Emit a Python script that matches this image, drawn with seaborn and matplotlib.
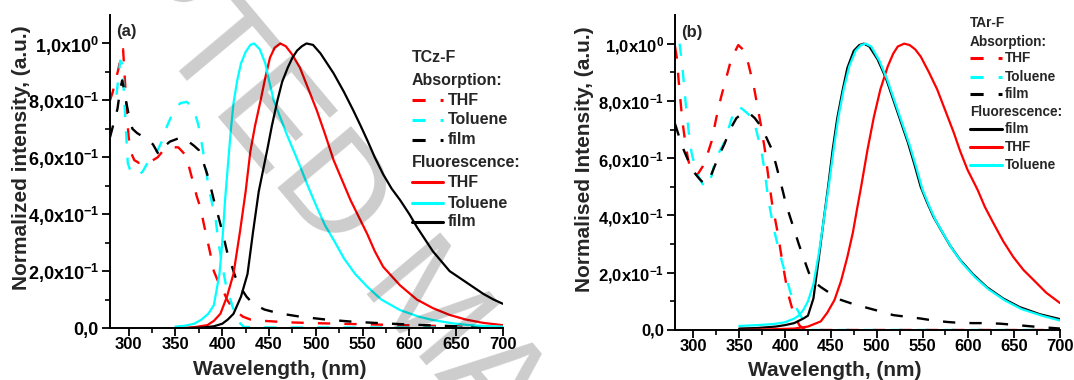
import matplotlib
matplotlib.use("Agg")
import matplotlib.pyplot as plt
import seaborn as sns

# ---- panel (a) TCz-F : absorption (dashed) ----
a_abs_thf_x = [280, 283, 286, 289, 292, 294, 296, 298, 300, 302, 306, 311, 321, 331, 336, 344, 353, 361, 365,
               369, 373, 377, 380, 384, 388, 391, 395, 400, 405, 410, 416, 422, 430, 445, 470, 500, 540, 580,
               620, 660, 700]
a_abs_thf_y = [0.80, 0.83, 0.87, 0.91, 0.96, 0.98, 0.87, 0.75, 0.67, 0.62, 0.59, 0.58, 0.58, 0.60, 0.62, 0.635,
               0.635, 0.607, 0.56, 0.51, 0.46, 0.42, 0.37, 0.31, 0.25, 0.20, 0.168, 0.14, 0.10, 0.075, 0.056,
               0.04, 0.03, 0.025, 0.02, 0.017, 0.014, 0.011, 0.008, 0.005, 0.003]

a_abs_tol_x = [287, 289, 291, 293, 295, 297, 299, 302, 306, 310, 315, 320, 326, 331, 336, 341, 345, 350, 355,
               362, 367, 371, 374, 377, 380, 383, 385, 389, 393, 396, 400, 404, 407, 411, 415, 419, 423, 450,
               500, 600, 700]
a_abs_tol_y = [0.82, 0.88, 0.94, 0.93, 0.82, 0.70, 0.58, 0.55, 0.54, 0.535, 0.55, 0.58, 0.61, 0.625, 0.66, 0.71,
               0.74, 0.77, 0.79, 0.795, 0.78, 0.75, 0.72, 0.67, 0.61, 0.55, 0.50, 0.44, 0.38, 0.30, 0.22, 0.15,
               0.12, 0.075, 0.04, 0.017, 0.004, 0.002, 0.002, 0.002, 0.002]

a_abs_film_x = [280, 284, 288, 291, 293, 295, 297, 300, 304, 309, 314, 320, 326, 332, 337, 344, 352, 358, 364,
                370, 375, 379, 384, 388, 391, 396, 400, 405, 409, 414, 419, 426, 433, 445, 460, 483, 510, 540,
                575, 608, 635, 661, 680, 700]
a_abs_film_y = [0.67, 0.72, 0.77, 0.84, 0.87, 0.84, 0.80, 0.75, 0.70, 0.685, 0.675, 0.665, 0.645, 0.61, 0.635,
                0.655, 0.665, 0.67, 0.655, 0.64, 0.625, 0.59, 0.54, 0.49, 0.45, 0.39, 0.34, 0.27, 0.23, 0.18,
                0.145, 0.11, 0.085, 0.065, 0.052, 0.04, 0.03, 0.022, 0.016, 0.011, 0.008, 0.005, 0.003, 0.001]

# ---- panel (a) TCz-F : fluorescence (solid) ----
a_fl_thf_x = [355, 370, 384, 391, 398, 405, 412, 419, 425, 430, 435, 441, 446, 451, 456, 462, 468, 475, 483,
              492, 501, 510, 519, 528, 537, 546, 555, 563, 572, 590, 608, 625, 643, 660, 679, 700]
a_fl_thf_y = [0.0, 0.003, 0.01, 0.025, 0.05, 0.11, 0.19, 0.34, 0.48, 0.62, 0.71, 0.80, 0.88, 0.95, 0.985, 1.0,
              0.99, 0.96, 0.915, 0.84, 0.765, 0.68, 0.59, 0.52, 0.45, 0.39, 0.33, 0.27, 0.215, 0.15, 0.10,
              0.07, 0.046, 0.03, 0.018, 0.01]

a_fl_tol_x = [350, 360, 370, 378, 385, 391, 397, 400, 403, 406, 409, 412, 416, 420, 425, 430, 434, 440, 446,
              450, 455, 462, 469, 476, 483, 492, 501, 510, 519, 530, 542, 555, 570, 590, 610, 625, 645, 661,
              680, 700]
a_fl_tol_y = [0.005, 0.008, 0.015, 0.03, 0.05, 0.08, 0.19, 0.30, 0.45, 0.57, 0.69, 0.79, 0.87, 0.93, 0.97,
              0.995, 1.0, 0.98, 0.93, 0.87, 0.80, 0.74, 0.68, 0.625, 0.57, 0.495, 0.425, 0.36, 0.31, 0.245,
              0.19, 0.145, 0.10, 0.063, 0.04, 0.028, 0.017, 0.011, 0.007, 0.005]

a_fl_film_x = [365, 380, 391, 400, 406, 412, 420, 427, 433, 439, 448, 453, 459, 464, 470, 475, 480, 485, 490,
               497, 505, 512, 519, 530, 540, 548, 555, 563, 572, 581, 590, 600, 608, 617, 625, 634, 643, 652,
               661, 670, 679, 690, 700]
a_fl_film_y = [0.0, 0.002, 0.006, 0.015, 0.03, 0.05, 0.11, 0.19, 0.34, 0.48, 0.625, 0.71, 0.80, 0.865, 0.915,
               0.95, 0.975, 0.99, 1.0, 0.995, 0.965, 0.93, 0.895, 0.83, 0.765, 0.71, 0.66, 0.60, 0.54, 0.49,
               0.45, 0.40, 0.355, 0.31, 0.27, 0.235, 0.20, 0.18, 0.16, 0.14, 0.12, 0.10, 0.085]

# ---- panel (b) TAr-F : absorption (dashed) ----
b_abs_thf_x = [280, 282, 284, 286, 288, 291, 294, 297, 301, 305, 310, 315, 320, 325, 330, 335, 340, 345, 349,
               354, 360, 366, 370, 374, 378, 382, 386, 392, 397, 403, 410, 416, 422, 430, 500, 600, 700]
b_abs_thf_y = [0.99, 0.95, 0.87, 0.80, 0.73, 0.66, 0.60, 0.56, 0.54, 0.545, 0.57, 0.61, 0.66, 0.74, 0.81, 0.87,
               0.93, 0.97, 0.995, 0.98, 0.93, 0.85, 0.78, 0.71, 0.63, 0.53, 0.44, 0.34, 0.24, 0.13, 0.05,
               0.015, 0.0, 0.0, 0.0, 0.0, 0.0]

b_abs_tol_x = [285, 288, 290, 292, 295, 298, 301, 305, 310, 316, 320, 323, 328, 333, 339, 345, 350, 356, 363,
               367, 370, 374, 378, 382, 388, 394, 400, 406, 412, 416, 420, 425, 430, 500, 600, 700]
b_abs_tol_y = [1.0, 0.92, 0.85, 0.78, 0.69, 0.62, 0.58, 0.54, 0.51, 0.50, 0.54, 0.58, 0.62, 0.65, 0.71, 0.77,
               0.78, 0.765, 0.745, 0.72, 0.68, 0.63, 0.55, 0.45, 0.35, 0.27, 0.20, 0.13, 0.08, 0.055, 0.035,
               0.01, 0.0, 0.0, 0.0, 0.0]

b_abs_film_x = [280, 284, 288, 292, 296, 301, 306, 312, 318, 323, 328, 334, 340, 347, 353, 360, 367, 374, 380,
                385, 390, 394, 398, 401, 406, 410, 415, 421, 426, 431, 439, 446, 453, 461, 475, 490, 505, 518,
                533, 548, 562, 577, 590, 605, 620, 635, 650, 664, 678, 692, 700]
b_abs_film_y = [0.72, 0.68, 0.64, 0.61, 0.58, 0.55, 0.53, 0.51, 0.53, 0.57, 0.61, 0.65, 0.70, 0.74, 0.755, 0.76,
                0.74, 0.71, 0.67, 0.635, 0.58, 0.53, 0.48, 0.44, 0.39, 0.35, 0.30, 0.245, 0.20, 0.17, 0.15,
                0.135, 0.12, 0.105, 0.09, 0.077, 0.064, 0.052, 0.046, 0.04, 0.033, 0.028, 0.025, 0.024, 0.024,
                0.022, 0.018, 0.014, 0.01, 0.007, 0.005]

# ---- panel (b) TAr-F : fluorescence (solid) ----
b_fl_film_x = [350, 370, 390, 400, 410, 420, 425, 431, 437, 442, 447, 452, 457, 463, 468, 475, 481, 486, 492,
               501, 510, 518, 526, 534, 541, 548, 555, 562, 570, 580, 591, 605, 620, 638, 656, 678, 700]
b_fl_film_y = [0.005, 0.007, 0.012, 0.017, 0.024, 0.04, 0.05, 0.11, 0.255, 0.38, 0.50, 0.63, 0.74, 0.84, 0.915,
               0.975, 0.995, 1.0, 0.99, 0.945, 0.88, 0.805, 0.73, 0.655, 0.58, 0.50, 0.445, 0.395, 0.35, 0.295,
               0.245, 0.195, 0.15, 0.11, 0.08, 0.055, 0.038]

b_fl_thf_x = [350, 380, 410, 425, 439, 446, 454, 461, 468, 474, 479, 483, 490, 497, 504, 512, 518, 523, 530,
              536, 542, 548, 557, 566, 575, 584, 591, 599, 610, 618, 627, 638, 649, 660, 671, 685, 700]
b_fl_thf_y = [0.0, 0.002, 0.005, 0.012, 0.03, 0.06, 0.105, 0.17, 0.255, 0.34, 0.43, 0.50, 0.63, 0.745, 0.84,
              0.92, 0.965, 0.99, 1.0, 0.995, 0.98, 0.955, 0.90, 0.84, 0.765, 0.69, 0.625, 0.56, 0.49, 0.43,
              0.375, 0.31, 0.255, 0.21, 0.175, 0.13, 0.094]

b_fl_tol_x = [350, 370, 388, 400, 410, 415, 420, 425, 431, 437, 443, 448, 453, 458, 464, 470, 477, 483, 488,
              494, 503, 512, 520, 528, 536, 543, 550, 557, 564, 572, 582, 593, 607, 622, 640, 658, 680, 700]
b_fl_tol_y = [0.014, 0.017, 0.021, 0.027, 0.04, 0.05, 0.07, 0.10, 0.16, 0.27, 0.40, 0.51, 0.63, 0.74, 0.84,
              0.92, 0.975, 0.995, 1.0, 0.99, 0.94, 0.87, 0.795, 0.72, 0.645, 0.57, 0.49, 0.435, 0.385, 0.34,
              0.285, 0.235, 0.185, 0.142, 0.103, 0.073, 0.05, 0.033]

# tick labels
x_ticks = [300, 350, 400, 450, 500, 550, 600, 650, 700]
y_ticks = [0.0, 0.2, 0.4, 0.6, 0.8, 1.0]
y_tick_labels = ['0,0', r'2,0x10$^{-1}$', r'4,0x10$^{-1}$', r'6,0x10$^{-1}$', r'8,0x10$^{-1}$', r'1,0x10$^{0}$']

RED, CYAN, BLACK = '#ff0000', '#00ffff', '#000000'
DASH = (0, (5.2, 6.0))

sns.set_theme(style="ticks")
plt.rcParams['font.family'] = ['Liberation Sans', 'DejaVu Sans']
plt.rcParams['font.weight'] = 'bold'
plt.rcParams['mathtext.fontset'] = 'custom'
plt.rcParams['mathtext.rm'] = 'Liberation Sans:bold'
plt.rcParams['mathtext.bf'] = 'Liberation Sans:bold'
plt.rcParams['mathtext.it'] = 'Liberation Sans:bold'
plt.rcParams['mathtext.default'] = 'bf'


def curve(ax, x, y, color, dashed):
    sns.lineplot(x=x, y=y, ax=ax, color=color, lw=1.7 if dashed else 1.6,
                 linestyle=DASH if dashed else '-', estimator=None, errorbar=None)


def style_axis(ax, ytick_fs):
    ax.set_xlim(280, 700)
    ax.set_ylim(0, 1.1)
    ax.set_xticks(x_ticks)
    ax.set_xticks([325, 375, 425, 475, 525, 575, 625, 675], minor=True)
    ax.set_yticks(y_ticks)
    ax.set_yticklabels(y_tick_labels)
    ax.set_yticks([0.1, 0.3, 0.5, 0.7, 0.9], minor=True)
    for s in ['top', 'right']:
        ax.spines[s].set_visible(False)
    for s in ['left', 'bottom']:
        ax.spines[s].set_linewidth(1.4)
        ax.spines[s].set_color('black')
    ax.tick_params(which='major', direction='out', length=6, width=1.3, color='black')
    ax.tick_params(which='minor', direction='out', length=3.5, width=1.2, color='black')
    ax.tick_params(axis='x', labelsize=12, pad=0.5)
    ax.tick_params(axis='y', labelsize=ytick_fs, pad=2)
    for t in ax.get_xticklabels() + ax.get_yticklabels():
        t.set_fontweight('bold')
        t.set_color('black')


def legend(ax, x0, x1, xt, rows, fs):
    for y, label, color, dashed in rows:
        if color is None:
            ax.text(x0, y, label, transform=ax.transAxes, fontsize=fs, fontweight='bold', va='center', ha='left')
            continue
        ax.plot([x0, x1], [y, y], transform=ax.transAxes, color=color, lw=2.2, clip_on=False,
                linestyle=(0, (4.3, 4.9)) if dashed else '-')
        ax.text(xt, y, label, transform=ax.transAxes, fontsize=fs, fontweight='bold', va='center', ha='left')


fig = plt.figure(figsize=(10.74, 3.8), dpi=100)
ax_a = fig.add_axes([0.1024, 0.1368, 0.3659, 0.8237])
ax_b = fig.add_axes([0.6285, 0.1316, 0.3585, 0.8289])

# panel (a)
curve(ax_a, a_abs_thf_x, a_abs_thf_y, RED, True)
curve(ax_a, a_abs_tol_x, a_abs_tol_y, CYAN, True)
curve(ax_a, a_abs_film_x, a_abs_film_y, BLACK, True)
curve(ax_a, a_fl_thf_x, a_fl_thf_y, RED, False)
curve(ax_a, a_fl_tol_x, a_fl_tol_y, CYAN, False)
curve(ax_a, a_fl_film_x, a_fl_film_y, BLACK, False)
style_axis(ax_a, 13)
ax_a.set_xlabel('Wavelength, (nm)', fontsize=15, fontweight='bold')
ax_a.set_ylabel('Normalized intensity, (a.u.)', fontsize=15, fontweight='bold')
ax_a.xaxis.set_label_coords(0.433, -0.102)
ax_a.yaxis.set_label_coords(-0.201, 0.543)
ax_a.text(0.041, 0.946, '(a)', transform=ax_a.transAxes, fontsize=12, fontweight='bold', ha='center', va='center')
legend(ax_a, 0.768, 0.847, 0.860, [
    (0.863, 'TCz-F', None, False),
    (0.792, 'Absorption:', None, False),
    (0.728, 'THF', RED, True),
    (0.665, 'Toluene', CYAN, True),
    (0.601, 'film', BLACK, True),
    (0.530, 'Fluorescence:', None, False),
    (0.466, 'THF', RED, False),
    (0.399, 'Toluene', CYAN, False),
    (0.339, 'film', BLACK, False),
], 11.5)

# panel (b)
curve(ax_b, b_abs_thf_x, b_abs_thf_y, RED, True)
curve(ax_b, b_abs_tol_x, b_abs_tol_y, CYAN, True)
curve(ax_b, b_abs_film_x, b_abs_film_y, BLACK, True)
curve(ax_b, b_fl_film_x, b_fl_film_y, BLACK, False)
curve(ax_b, b_fl_thf_x, b_fl_thf_y, RED, False)
curve(ax_b, b_fl_tol_x, b_fl_tol_y, CYAN, False)
style_axis(ax_b, 12)
ax_b.set_xlabel('Wavelength, (nm)', fontsize=15, fontweight='bold')
ax_b.set_ylabel('Normalised Intensity, (a.u.)', fontsize=15, fontweight='bold')
ax_b.xaxis.set_label_coords(0.416, -0.097)
ax_b.yaxis.set_label_coords(-0.21, 0.543)
ax_b.text(0.044, 0.946, '(b)', transform=ax_b.transAxes, fontsize=12, fontweight='bold', ha='center', va='center')
legend(ax_b, 0.766, 0.849, 0.857, [
    (0.975, 'TAr-F', None, False),
    (0.914, 'Absorption:', None, False),
    (0.863, 'THF', RED, True),
    (0.803, 'Toluene', CYAN, True),
    (0.749, 'film', BLACK, True),
    (0.692, 'Fluorescence:', None, False),
    (0.638, 'film', BLACK, False),
    (0.581, 'THF', RED, False),
    (0.524, 'Toluene', CYAN, False),
], 9.8)

# grey manuscript watermark
fig.text(-0.1415, 1.852, 'ACCEPTED MANUSCRIPT', rotation=-50, rotation_mode='anchor', ha='left', va='baseline',
         fontsize=100, color='black', alpha=0.2, family='Liberation Sans', fontweight='normal', zorder=10)

fig.savefig('out.png', dpi=100)
